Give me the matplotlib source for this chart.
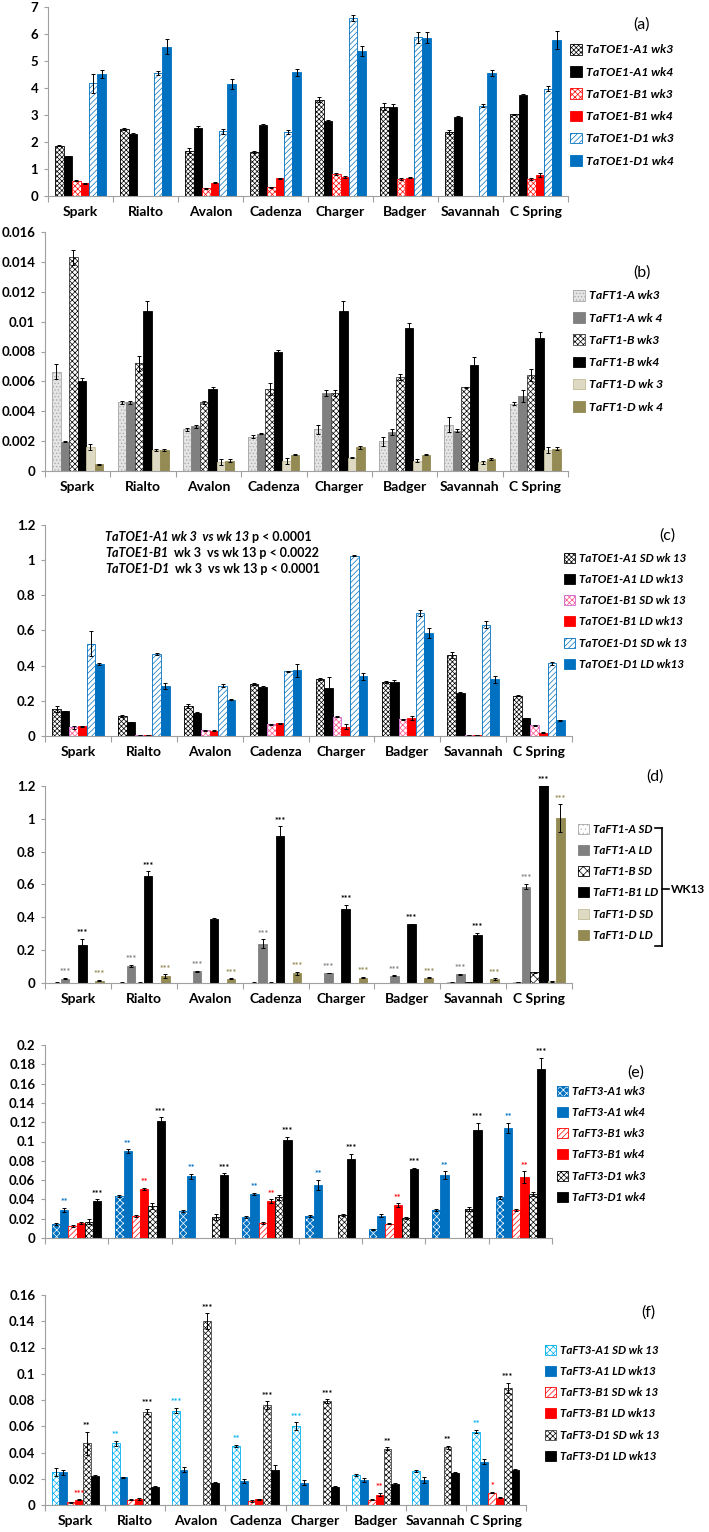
import numpy as np
import matplotlib
matplotlib.use('Agg')
import matplotlib.pyplot as plt
from matplotlib.patches import Patch
from matplotlib.lines import Line2D
from matplotlib.ticker import FuncFormatter

plt.rcParams['font.family'] = ['Lato', 'DejaVu Sans']
plt.rcParams['font.weight'] = 'bold'
plt.rcParams['hatch.linewidth'] = 0.5

W, H = 709, 1532

cultivars = ['Spark', 'Rialto', 'Avalon', 'Cadenza', 'Charger', 'Badger', 'Savannah', 'C Spring']

# ---------------- (a) TaTOE1 wk3 / wk4 ----------------
labels_a = ['TaTOE1-A1 wk3', 'TaTOE1-A1 wk4', 'TaTOE1-B1 wk3', 'TaTOE1-B1 wk4', 'TaTOE1-D1 wk3', 'TaTOE1-D1 wk4']
toe_a1_wk3 = [1.87, 2.48, 1.68, 1.63, 3.57, 3.30, 2.37, 3.02]
toe_a1_wk4 = [1.47, 2.29, 2.53, 2.62, 2.76, 3.29, 2.93, 3.73]
toe_b1_wk3 = [0.56, 0.01, 0.28, 0.33, 0.82, 0.64, 0.01, 0.63]
toe_b1_wk4 = [0.47, 0.01, 0.50, 0.65, 0.71, 0.68, 0.01, 0.77]
toe_d1_wk3 = [4.17, 4.55, 2.39, 2.37, 6.60, 5.88, 3.35, 3.98]
toe_d1_wk4 = [4.53, 5.53, 4.15, 4.58, 5.37, 5.86, 4.55, 5.78]
err_toe_a1_wk3 = [0.03, 0.05, 0.08, 0.04, 0.08, 0.13, 0.06, 0.02]
err_toe_a1_wk4 = [0.03, 0.04, 0.05, 0.06, 0.04, 0.13, 0.04, 0.05]
err_toe_b1_wk3 = [0.02, 0.0, 0.02, 0.02, 0.04, 0.04, 0.0, 0.04]
err_toe_b1_wk4 = [0.02, 0.0, 0.03, 0.03, 0.03, 0.03, 0.0, 0.08]
err_toe_d1_wk3 = [0.35, 0.08, 0.10, 0.07, 0.12, 0.20, 0.05, 0.10]
err_toe_d1_wk4 = [0.15, 0.27, 0.17, 0.12, 0.20, 0.20, 0.12, 0.33]

# ---------------- (b) TaFT1 wk3 / wk4 ----------------
labels_b = ['TaFT1-A wk3', 'TaFT1-A wk 4', 'TaFT1-B wk3', 'TaFT1-B wk4', 'TaFT1-D wk 3', 'TaFT1-D wk 4']
ft1_a_wk3 = [0.00664, 0.0046, 0.0028, 0.0023, 0.0028, 0.0020, 0.0031, 0.0045]
ft1_a_wk4 = [0.00195, 0.0046, 0.0030, 0.0025, 0.0052, 0.0026, 0.0027, 0.0050]
ft1_b_wk3 = [0.0143, 0.0072, 0.0046, 0.0055, 0.0052, 0.0063, 0.0056, 0.0064]
ft1_b_wk4 = [0.0060, 0.0107, 0.0055, 0.0080, 0.0107, 0.0096, 0.0071, 0.0089]
ft1_d_wk3 = [0.0016, 0.0014, 0.0006, 0.0007, 0.0009, 0.0007, 0.0006, 0.0014]
ft1_d_wk4 = [0.00045, 0.0014, 0.0007, 0.0011, 0.0016, 0.0011, 0.0008, 0.0015]
err_ft1_a_wk3 = [0.0005, 0.0001, 0.0001, 0.0001, 0.0003, 0.0003, 0.0005, 0.0001]
err_ft1_a_wk4 = [0.00003, 0.0001, 0.0001, 0.00003, 0.0002, 0.0002, 0.0001, 0.0004]
err_ft1_b_wk3 = [0.0005, 0.0005, 0.0001, 0.0004, 0.0002, 0.0002, 0.00003, 0.0004]
err_ft1_b_wk4 = [0.0002, 0.0007, 0.0001, 0.0001, 0.0007, 0.0003, 0.0005, 0.0004]
err_ft1_d_wk3 = [0.0002, 0.00005, 0.0002, 0.0002, 0.00005, 0.0001, 0.0001, 0.0002]
err_ft1_d_wk4 = [0.00003, 0.00005, 0.0001, 0.00005, 0.0001, 0.00005, 0.00005, 0.0001]

# ---------------- (c) TaTOE1 wk13 SD / LD ----------------
labels_c = ['TaTOE1-A1 SD wk 13', 'TaTOE1-A1 LD wk13', 'TaTOE1-B1 SD wk 13', 'TaTOE1-B1 LD wk13',
            'TaTOE1-D1 SD wk 13', 'TaTOE1-D1 LD wk13']
toe13_a1_sd = [0.154, 0.113, 0.170, 0.297, 0.325, 0.308, 0.460, 0.230]
toe13_a1_ld = [0.140, 0.078, 0.133, 0.280, 0.272, 0.305, 0.247, 0.103]
toe13_b1_sd = [0.050, 0.003, 0.033, 0.068, 0.110, 0.095, 0.003, 0.060]
toe13_b1_ld = [0.055, 0.003, 0.030, 0.072, 0.053, 0.102, 0.003, 0.018]
toe13_d1_sd = [0.525, 0.465, 0.287, 0.367, 1.025, 0.700, 0.634, 0.413]
toe13_d1_ld = [0.410, 0.285, 0.205, 0.373, 0.340, 0.585, 0.322, 0.090]
err_toe13_a1_sd = [0.018, 0.005, 0.012, 0.005, 0.005, 0.004, 0.015, 0.003]
err_toe13_a1_ld = [0.003, 0.003, 0.003, 0.005, 0.065, 0.015, 0.002, 0.002]
err_toe13_b1_sd = [0.008, 0.0, 0.003, 0.003, 0.004, 0.003, 0.0, 0.004]
err_toe13_b1_ld = [0.003, 0.0, 0.003, 0.003, 0.015, 0.012, 0.0, 0.002]
err_toe13_d1_sd = [0.070, 0.006, 0.008, 0.004, 0.004, 0.015, 0.020, 0.008]
err_toe13_d1_ld = [0.005, 0.018, 0.003, 0.035, 0.020, 0.030, 0.020, 0.003]
pvalue_lines = [('TaTOE1-A1 wk 3  vs wk 13', ' p < 0.0001'),
                ('TaTOE1-B1', '  wk 3  vs wk 13 p < 0.0022'),
                ('TaTOE1-D1', '  wk 3  vs wk 13 p < 0.0001')]

# ---------------- (d) TaFT1 wk13 SD / LD ----------------
labels_d = ['TaFT1-A SD', 'TaFT1-A LD', 'TaFT1-B SD', 'TaFT1-B1 LD', 'TaFT1-D SD', 'TaFT1-D LD']
ft1_13_a_sd = [0.003, 0.003, 0.002, 0.003, 0.002, 0.002, 0.004, 0.005]
ft1_13_a_ld = [0.026, 0.105, 0.073, 0.240, 0.060, 0.045, 0.053, 0.587]
ft1_13_b_sd = [0.002, 0.003, 0.002, 0.003, 0.002, 0.002, 0.005, 0.065]
ft1_13_b1_ld = [0.230, 0.650, 0.388, 0.895, 0.450, 0.357, 0.290, 1.250]
ft1_13_d_sd = [0.002, 0.002, 0.002, 0.002, 0.002, 0.002, 0.002, 0.010]
ft1_13_d_ld = [0.015, 0.043, 0.025, 0.058, 0.033, 0.032, 0.023, 1.003]
err_ft1_13_a_sd = [0.001, 0.001, 0.001, 0.001, 0.001, 0.001, 0.001, 0.001]
err_ft1_13_a_ld = [0.004, 0.006, 0.003, 0.025, 0.002, 0.002, 0.004, 0.015]
err_ft1_13_b_sd = [0.001, 0.001, 0.001, 0.001, 0.001, 0.001, 0.001, 0.004]
err_ft1_13_b1_ld = [0.040, 0.030, 0.005, 0.060, 0.025, 0.005, 0.015, 0.050]
err_ft1_13_d_sd = [0.001, 0.001, 0.001, 0.001, 0.001, 0.001, 0.001, 0.002]
err_ft1_13_d_ld = [0.003, 0.010, 0.003, 0.010, 0.003, 0.003, 0.006, 0.085]
stars_d_a_ld = ['***'] * 8
stars_d_b1_ld = ['***', '***', '', '***', '***', '***', '***', '***']
stars_d_d_ld = ['***'] * 8

# ---------------- (e) TaFT3 wk3 / wk4 ----------------
labels_e = ['TaFT3-A1 wk3', 'TaFT3-A1 wk4', 'TaFT3-B1 wk3', 'TaFT3-B1 wk4', 'TaFT3-D1 wk3', 'TaFT3-D1 wk4']
ft3_a1_wk3 = [0.0145, 0.044, 0.028, 0.022, 0.023, 0.009, 0.029, 0.042]
ft3_a1_wk4 = [0.029, 0.090, 0.064, 0.046, 0.055, 0.023, 0.065, 0.114]
ft3_b1_wk3 = [0.012, 0.023, 0.0005, 0.016, 0.0005, 0.015, 0.0005, 0.029]
ft3_b1_wk4 = [0.016, 0.051, 0.0005, 0.038, 0.0005, 0.034, 0.0005, 0.063]
ft3_d1_wk3 = [0.017, 0.033, 0.022, 0.042, 0.024, 0.021, 0.030, 0.046]
ft3_d1_wk4 = [0.038, 0.121, 0.065, 0.102, 0.082, 0.072, 0.112, 0.175]
err_ft3_a1_wk3 = [0.001, 0.001, 0.0015, 0.001, 0.001, 0.0005, 0.001, 0.0015]
err_ft3_a1_wk4 = [0.002, 0.002, 0.0025, 0.001, 0.005, 0.0015, 0.004, 0.005]
err_ft3_b1_wk3 = [0.001, 0.001, 0.0, 0.001, 0.0, 0.001, 0.0, 0.001]
err_ft3_b1_wk4 = [0.001, 0.001, 0.0, 0.002, 0.0, 0.002, 0.0, 0.006]
err_ft3_d1_wk3 = [0.003, 0.003, 0.003, 0.003, 0.001, 0.001, 0.0025, 0.002]
err_ft3_d1_wk4 = [0.002, 0.004, 0.002, 0.003, 0.005, 0.001, 0.007, 0.012]
stars_e_a1_wk4 = ['**', '**', '**', '**', '**', '', '**', '**']
stars_e_b1_wk4 = ['', '**', '', '**', '', '**', '', '**']
stars_e_d1_wk4 = ['***'] * 8

# ---------------- (f) TaFT3 wk13 SD / LD ----------------
labels_f = ['TaFT3-A1 SD wk 13', 'TaFT3-A1 LD wk13', 'TaFT3-B1 SD wk 13', 'TaFT3-B1 LD wk13',
            'TaFT3-D1 SD wk 13', 'TaFT3-D1 LD wk13']
ft3_13_a1_sd = [0.025, 0.047, 0.072, 0.045, 0.060, 0.023, 0.026, 0.056]
ft3_13_a1_ld = [0.025, 0.021, 0.027, 0.018, 0.017, 0.019, 0.019, 0.033]
ft3_13_b1_sd = [0.002, 0.004, 0.0003, 0.003, 0.0003, 0.004, 0.0003, 0.0095]
ft3_13_b1_ld = [0.004, 0.0045, 0.0003, 0.0045, 0.0003, 0.008, 0.0003, 0.0055]
ft3_13_d1_sd = [0.047, 0.071, 0.140, 0.076, 0.079, 0.043, 0.044, 0.089]
ft3_13_d1_ld = [0.022, 0.014, 0.017, 0.027, 0.014, 0.016, 0.0245, 0.027]
err_ft3_13_a1_sd = [0.003, 0.002, 0.002, 0.001, 0.003, 0.0008, 0.001, 0.001]
err_ft3_13_a1_ld = [0.002, 0.0005, 0.002, 0.0015, 0.002, 0.0015, 0.002, 0.002]
err_ft3_13_b1_sd = [0.0003, 0.0005, 0.0, 0.0005, 0.0, 0.0005, 0.0, 0.0004]
err_ft3_13_b1_ld = [0.0004, 0.0005, 0.0, 0.0004, 0.0, 0.0015, 0.0, 0.0005]
err_ft3_13_d1_sd = [0.009, 0.002, 0.006, 0.003, 0.0015, 0.001, 0.001, 0.004]
err_ft3_13_d1_ld = [0.0005, 0.0003, 0.0005, 0.0035, 0.0005, 0.0005, 0.0003, 0.0004]
stars_f_a1_sd = ['', '**', '***', '**', '***', '', '', '**']
stars_f_b1_sd = ['', '', '', '', '', '', '', '*']
stars_f_b1_ld = ['***', '', '', '', '', '**', '', '']
stars_f_d1_sd = ['**', '***', '***', '***', '***', '**', '**', '***']

# ---------------- styles ----------------
blue = '#0070C0'
red = '#FF0000'
cyan = '#00B0F0'
olive = '#948A54'
beige = '#DDD9C3'
grey = '#808080'
axis_grey = '#A0A0A0'

# (face, hatch colour, hatch, edge)
styles_a = [('white', 'black', 'xxxxxxx', 'black'), ('black', None, None, 'black'),
            ('white', red, 'xxxxxx', red), (red, None, None, red),
            ('white', blue, '//////', blue), (blue, None, None, blue)]
styles_b = [('#E4E4E4', '#A8A8A8', '.....', '#A6A6A6'), (grey, None, None, grey),
            ('white', 'black', 'xxxxxx', '#404040'), ('black', None, None, 'black'),
            (beige, None, None, '#C4BD97'), (olive, None, None, olive)]
styles_c = [('white', 'black', 'xxxxxxx', 'black'), ('black', None, None, 'black'),
            ('white', '#FF4D88', 'xxxxxx', '#CC66CC'), (red, None, None, red),
            ('white', blue, '//////', blue), (blue, None, None, blue)]
styles_d = [('white', '#BFBFBF', '....', '#A6A6A6'), (grey, None, None, grey),
            ('white', 'black', 'xxxx', 'black'), ('black', None, None, 'black'),
            (beige, None, None, '#C4BD97'), (olive, None, None, olive)]
styles_e = [(blue, 'white', 'xxxxx', blue), (blue, None, None, blue),
            ('white', red, '//////', red), (red, None, None, red),
            ('white', 'black', 'xxxxxx', 'black'), ('black', None, None, 'black')]
styles_f = [('white', cyan, 'xxxxx', cyan), (blue, None, None, blue),
            ('white', red, '//////', red), (red, None, None, red),
            ('white', 'black', 'xxxxxx', '#404040'), ('black', None, None, 'black')]

bar_w = 0.13

fig = plt.figure(figsize=(W / 100, H / 100), dpi=100)
fig.patch.set_facecolor('white')


def px(x, y):
    return (x / W, 1 - y / H)


def add_panel(left, top, right, bottom):
    return fig.add_axes([left / W, 1 - bottom / H, (right - left) / W, (bottom - top) / H])


def draw_bars(ax, series, errors, styles, ymax, ystep, show_names=True):
    groups = np.arange(len(cultivars))
    handles = []
    for k, (vals, err, st) in enumerate(zip(series, errors, styles)):
        face, hcol, hatch, edge = st
        xs = groups + (k - 2.5) * bar_w
        if hatch:
            ax.bar(xs, vals, bar_w, color=face, edgecolor=hcol, hatch=hatch, linewidth=0)
            ax.bar(xs, vals, bar_w, facecolor='none', edgecolor=edge, linewidth=0.6)
            handles.append((Patch(facecolor=face, edgecolor=hcol, hatch=hatch, linewidth=0),
                            Patch(facecolor='none', edgecolor=edge, linewidth=0.6)))
        else:
            ax.bar(xs, vals, bar_w, color=face, edgecolor=edge, linewidth=0.6)
            handles.append(Patch(facecolor=face, edgecolor=edge, linewidth=0.6))
        ax.errorbar(xs, vals, yerr=err, fmt='none', ecolor='black', elinewidth=0.7,
                    capsize=1.5, capthick=0.7)
    ax.set_xlim(-0.5, len(cultivars) - 0.5)
    ax.set_ylim(0, ymax)
    ax.set_yticks(np.round(np.arange(0, ymax + ystep / 2, ystep), 4))
    ax.yaxis.set_major_formatter(FuncFormatter(lambda v, p: f'{v:g}'))
    ax.set_xticks(np.arange(-0.5, len(cultivars), 1))
    ax.set_xticklabels([])
    ax.set_xticks(groups, minor=True)
    if show_names:
        ax.set_xticklabels(cultivars, minor=True)
    ax.tick_params(axis='x', which='major', length=4, color=axis_grey)
    ax.tick_params(axis='x', which='minor', length=0, pad=7, labelsize=10)
    ax.tick_params(axis='y', length=3, color=axis_grey, labelsize=9.5, pad=4)
    for s in ['top', 'right']:
        ax.spines[s].set_visible(False)
    for s in ['left', 'bottom']:
        ax.spines[s].set_color(axis_grey)
        ax.spines[s].set_linewidth(0.8)
    return handles


def add_stars(ax, series, errors, k, marks, color):
    top_lim = ax.get_ylim()[1]
    for i, m in enumerate(marks):
        if m:
            top = min(series[k][i] + errors[k][i], top_lim)
            ax.annotate(m, (i + (k - 2.5) * bar_w, top), xytext=(0, 0.5),
                        textcoords='offset points', ha='center', va='bottom',
                        fontsize=6.5, color=color, annotation_clip=False)


def add_legend(handles, labels, x, y, size=8.3):
    fig.legend(handles, labels, loc='upper left', bbox_to_anchor=px(x, y), frameon=False,
               prop=dict(weight='bold', style='italic', size=size), handlelength=0.95,
               handleheight=0.95, handletextpad=0.35, labelspacing=0.88,
               borderaxespad=0, borderpad=0)


def panel_tag(tag, x, y):
    fig.text(*px(x, y), tag, ha='center', va='center', fontsize=11.5, fontweight='normal')


# (a)
ax_a = add_panel(48, 7, 568, 196)
series_a = [toe_a1_wk3, toe_a1_wk4, toe_b1_wk3, toe_b1_wk4, toe_d1_wk3, toe_d1_wk4]
errors_a = [err_toe_a1_wk3, err_toe_a1_wk4, err_toe_b1_wk3, err_toe_b1_wk4, err_toe_d1_wk3, err_toe_d1_wk4]
h = draw_bars(ax_a, series_a, errors_a, styles_a, 7, 1)
add_legend(h, labels_a, 570, 44, size=8.8)
panel_tag('(a)', 642, 25)

# (b)
ax_b = add_panel(45, 232, 568, 471)
series_b = [ft1_a_wk3, ft1_a_wk4, ft1_b_wk3, ft1_b_wk4, ft1_d_wk3, ft1_d_wk4]
errors_b = [err_ft1_a_wk3, err_ft1_a_wk4, err_ft1_b_wk3, err_ft1_b_wk4, err_ft1_d_wk3, err_ft1_d_wk4]
h = draw_bars(ax_b, series_b, errors_b, styles_b, 0.016, 0.002)
add_legend(h, labels_b, 573, 290, size=8.8)
panel_tag('(b)', 642, 273)

# (c)
ax_c = add_panel(45, 525, 572, 736)
series_c = [toe13_a1_sd, toe13_a1_ld, toe13_b1_sd, toe13_b1_ld, toe13_d1_sd, toe13_d1_ld]
errors_c = [err_toe13_a1_sd, err_toe13_a1_ld, err_toe13_b1_sd, err_toe13_b1_ld, err_toe13_d1_sd,
            err_toe13_d1_ld]
h = draw_bars(ax_c, series_c, errors_c, styles_c, 1.2, 0.2)
add_legend(h, labels_c, 564, 553)
panel_tag('(c)', 667, 536)
for j, (ital, rest) in enumerate(pvalue_lines):
    t = fig.text(*px(105, 537 + 16 * j), ital, ha='left', va='center', fontsize=9,
                 fontweight='bold', fontstyle='italic')
    ax_c.annotate(rest, xy=(1, 0.5), xycoords=t, ha='left', va='center', fontsize=9,
                  fontweight='bold', annotation_clip=False)

# (d)
ax_d = add_panel(45, 786, 572, 983)
series_d = [ft1_13_a_sd, ft1_13_a_ld, ft1_13_b_sd, ft1_13_b1_ld, ft1_13_d_sd, ft1_13_d_ld]
errors_d = [err_ft1_13_a_sd, err_ft1_13_a_ld, err_ft1_13_b_sd, err_ft1_13_b1_ld, err_ft1_13_d_sd,
            err_ft1_13_d_ld]
h = draw_bars(ax_d, series_d, errors_d, styles_d, 1.2, 0.2)
add_stars(ax_d, series_d, errors_d, 1, stars_d_a_ld, grey)
add_stars(ax_d, series_d, errors_d, 3, stars_d_b1_ld, 'black')
add_stars(ax_d, series_d, errors_d, 5, stars_d_d_ld, olive)
add_legend(h, labels_d, 578, 824)
panel_tag('(d)', 655, 777)
# WK13 bracket
for xs_, ys_ in [([655, 662], [828, 828]), ([662, 662], [828, 946]), ([655, 662], [946, 946]),
                 ([662, 669], [889, 889])]:
    fig.add_artist(Line2D([x / W for x in xs_], [1 - y / H for y in ys_], color='black',
                          linewidth=1.2, transform=fig.transFigure))
fig.text(*px(671, 889), 'WK13', ha='left', va='center', fontsize=8.5, fontweight='bold')

# (e)
ax_e = add_panel(45, 1045, 552, 1238)
series_e = [ft3_a1_wk3, ft3_a1_wk4, ft3_b1_wk3, ft3_b1_wk4, ft3_d1_wk3, ft3_d1_wk4]
errors_e = [err_ft3_a1_wk3, err_ft3_a1_wk4, err_ft3_b1_wk3, err_ft3_b1_wk4, err_ft3_d1_wk3, err_ft3_d1_wk4]
h = draw_bars(ax_e, series_e, errors_e, styles_e, 0.2, 0.02, show_names=False)
add_stars(ax_e, series_e, errors_e, 1, stars_e_a1_wk4, blue)
add_stars(ax_e, series_e, errors_e, 3, stars_e_b1_wk4, red)
add_stars(ax_e, series_e, errors_e, 5, stars_e_d1_wk4, 'black')
add_legend(h, labels_e, 557, 1086)
panel_tag('(e)', 636, 1073)

# (f)
ax_f = add_panel(45, 1295, 526, 1505)
series_f = [ft3_13_a1_sd, ft3_13_a1_ld, ft3_13_b1_sd, ft3_13_b1_ld, ft3_13_d1_sd, ft3_13_d1_ld]
errors_f = [err_ft3_13_a1_sd, err_ft3_13_a1_ld, err_ft3_13_b1_sd, err_ft3_13_b1_ld, err_ft3_13_d1_sd,
            err_ft3_13_d1_ld]
h = draw_bars(ax_f, series_f, errors_f, styles_f, 0.16, 0.02)
add_stars(ax_f, series_f, errors_f, 0, stars_f_a1_sd, cyan)
add_stars(ax_f, series_f, errors_f, 2, stars_f_b1_sd, red)
add_stars(ax_f, series_f, errors_f, 3, stars_f_b1_ld, red)
add_stars(ax_f, series_f, errors_f, 4, stars_f_d1_sd, 'black')
add_legend(h, labels_f, 545, 1345, size=8.3)
panel_tag('(f)', 648, 1313)

fig.savefig('out.png', dpi=100, facecolor='white')
